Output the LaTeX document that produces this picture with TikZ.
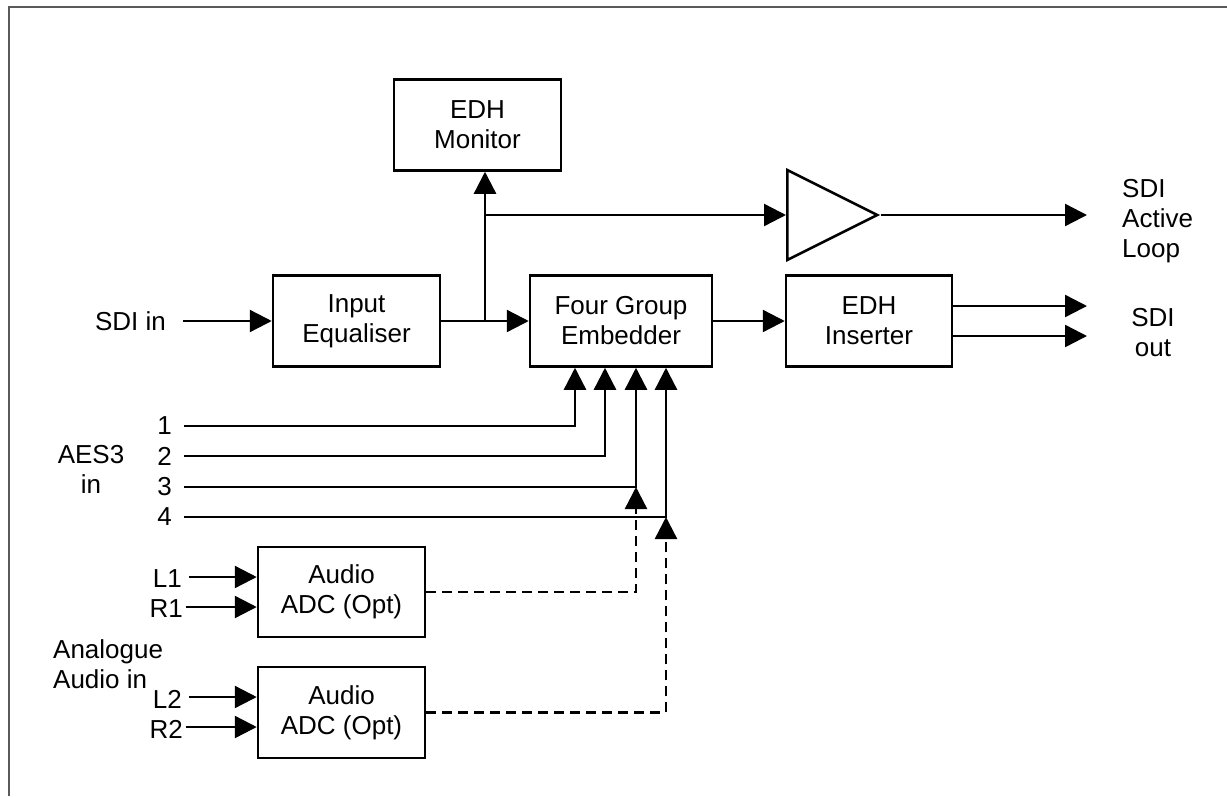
\documentclass[tikz,border=0pt]{standalone}
\usepackage{fontspec}
\setmainfont{Liberation Sans}
\usetikzlibrary{arrows.meta,positioning,shapes.geometric}

\definecolor{framegray}{HTML}{5A5A5A}

\begin{document}
\begin{tikzpicture}[x=1pt,y=-1pt,node distance=120pt,on grid,
    font=\fontsize{26pt}{30pt}\selectfont,
    block/.style={rectangle, draw, line width=2.5pt, minimum width=167pt, minimum height=91pt, align=center, inner sep=0pt},
    amp/.style={isosceles triangle, isosceles triangle stretches, draw, line width=2.5pt, minimum width=90pt, minimum height=90pt, inner sep=0pt},
    tag/.style={inner sep=0pt},
    sig/.style={line width=2.4pt, -{Triangle[length=22pt,width=22pt]}},
    opt/.style={sig, dash pattern=on 10pt off 6pt}
    ]

    \useasboundingbox (0,0) rectangle (1227,796);
    \draw[framegray, line width=2pt] (8.5,796) -- (8.5,7) -- (1227,7);

    % main video path
    \node[block] (b_eq) at (356.5,321) {Input\\Equaliser};
    \node[block] (b_mon) at (477.5,125) {EDH\\Monitor};
    \node[block, minimum width=182pt] (b_emb) at (621,321) {Four Group\\Embedder};
    \node[block, minimum width=166pt] (b_ins) at (869,321) {EDH\\Inserter};
    \node[amp, anchor=west] (amp) at (786,215) {};

    % audio converters
    \node[block, minimum height=90pt] (b_adc1) at (341.5,592) {Audio\\ADC (Opt)};
    \node[block] (b_adc2) [below=of b_adc1, yshift=-0.5pt] {Audio\\ADC (Opt)};

    % labels
    \node[tag] (t_sdi) at (130.5,321) {SDI in};
    \node[tag, align=left, anchor=west] (t_loop) at (1122,221) {SDI\\Active\\Loop};
    \node[tag, align=center] (t_out) at (1153,333) {SDI\\out};
    \node[tag, align=center] (t_aes) at (91,469) {AES3\\in};
    \node[tag, anchor=east] (t_1) at (172,426) {1};
    \node[tag, anchor=east] (t_2) at (172,456) {2};
    \node[tag, anchor=east] (t_3) at (172,487) {3};
    \node[tag, anchor=east] (t_4) at (172,517) {4};
    \node[tag, anchor=east] (t_l1) at (182,579) {L1};
    \node[tag, anchor=east] (t_r1) at (183,609) {R1};
    \node[tag, anchor=east] (t_l2) at (182,699) {L2};
    \node[tag, anchor=east] (t_r2) at (183,729) {R2};
    \node[tag, align=left, anchor=west] (t_ana) at (53,664) {Analogue\\Audio in};

    % free ends and junctions
    \coordinate (s_sdi) at (183,321);
    \coordinate (j_m) at (485,321);
    \coordinate (j_a) at (485,215);
    \coordinate (o_loop) at (1087,215);
    \coordinate (o_out1) at (1087,306);
    \coordinate (o_out2) at (1087,336);
    \coordinate (a_1) at (184,426);
    \coordinate (a_2) at (184,456);
    \coordinate (a_3) at (184,487);
    \coordinate (a_4) at (184,517);
    \coordinate (j_3) at (636,487);
    \coordinate (j_4) at (666,517);
    \coordinate (s_l1) at (189,577);
    \coordinate (s_r1) at (186,607);
    \coordinate (s_l2) at (189,697);
    \coordinate (s_r2) at (186,727);

    \draw[sig] (s_sdi) -- (b_eq.west);
    \draw[sig] (b_eq.east) -- (b_emb.west);
    \draw[sig] (j_m) -- (j_m |- b_mon.south);
    \draw[sig] (j_a) -- (amp.west);
    \draw[sig] (amp.apex) -- (o_loop);
    \draw[sig] (b_emb.east) -- (b_ins.west);
    \draw[sig] (b_ins.east |- o_out1) -- (o_out1);
    \draw[sig] (b_ins.east |- o_out2) -- (o_out2);

    \draw[sig] (a_1) -| ([xshift=-46pt]b_emb.south);
    \draw[sig] (a_2) -| ([xshift=-16pt]b_emb.south);
    \draw[sig] (a_3) -| ([xshift=15pt]b_emb.south);
    \draw[sig] (a_4) -| ([xshift=45pt]b_emb.south);

    \draw[sig] (s_l1) -- (s_l1 -| b_adc1.west);
    \draw[sig] (s_r1) -- (s_r1 -| b_adc1.west);
    \draw[sig] (s_l2) -- (s_l2 -| b_adc2.west);
    \draw[sig] (s_r2) -- (s_r2 -| b_adc2.west);

    \draw[opt] (b_adc1.east) -| (j_3);
    \draw[opt] (b_adc2.east) -| (j_4);
\end{tikzpicture}
\end{document}
